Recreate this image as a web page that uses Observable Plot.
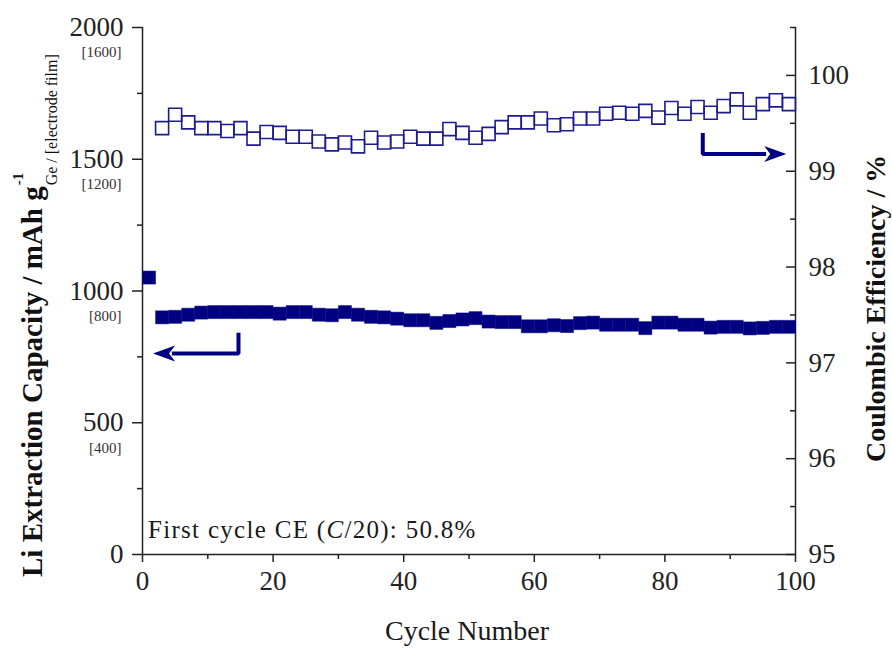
<!DOCTYPE html>
<html><head><meta charset="utf-8">
<script src="https://cdn.jsdelivr.net/npm/d3@7"></script>
<script src="https://cdn.jsdelivr.net/npm/@observablehq/plot@0.6"></script>
<style>
html,body{margin:0;padding:0;background:#fff;}
#chart svg{display:block;}
</style></head><body><div id="chart"></div>
<script>
// ---- data ----
const capCycles = [1,3,5,7,9,11,13,15,17,19,21,23,25,27,29,31,33,35,37,39,41,43,45,47,49,51,53,55,57,59,61,63,65,67,69,71,73,75,77,79,81,83,85,87,89,91,93,95,97,99];
const capValues = [1051,900,902,910,918,920,920,920,920,920,914,920,920,910,908,920,910,902,900,895,889,889,879,886,892,897,884,882,882,866,866,870,867,878,880,872,872,872,859,880,880,872,872,861,864,864,858,860,864,864];
const ceCycles = [3,5,7,9,11,13,15,17,19,21,23,25,27,29,31,33,35,37,39,41,43,45,47,49,51,53,55,57,59,61,63,65,67,69,71,73,75,77,79,81,83,85,87,89,91,93,95,97,99];
const ceValues = [99.45,99.59,99.51,99.45,99.45,99.42,99.45,99.34,99.41,99.40,99.36,99.36,99.31,99.28,99.30,99.26,99.35,99.30,99.31,99.36,99.34,99.34,99.44,99.40,99.35,99.39,99.46,99.51,99.51,99.55,99.48,99.49,99.55,99.55,99.60,99.61,99.60,99.63,99.56,99.66,99.60,99.67,99.61,99.68,99.75,99.61,99.70,99.74,99.70];

const xTicks = [0,20,40,60,80,100];
const xMinorTicks = [10,30,50,70,90];
const capTicks = [0,500,1000,1500,2000];
const capMinorTicks = [250,750,1250,1750];
const filmTickLabels = ["","[400]","[800]","[1200]","[1600]"];
const ceTicks = [95,96,97,98,99,100];
const ceMinorTicks = [95.5,96.5,97.5,98.5,99.5,100.5];
const capDomain = [0,2000];
const ceDomain = [95,100.5];

// arrow annotations (data units)
const capArrowCycles = [14.7,14.7,4.5];
const capArrowValues = [842,763,763];
const capArrowHead = {cycle:3.3, value:763};
const ceArrowCycles = [85.8,85.8,95.5];
const ceArrowValues = [99.40,99.18,99.18];
const ceArrowHead = {cycle:96.9, value:99.18};

const noteParts = ["First cycle CE (", "C", "/20): 50.8%"];
const xTitle = "Cycle Number";
const yTitleMain = "Li Extraction Capacity / mAh g";
const yTitleSup = "-1";
const yTitleSub = "Ge / [electrode film]";
const y2Title = "Coulombic Efficiency / %";

// map CE onto the capacity scale (secondary axis)
const ceToY = v => (v - ceDomain[0]) / (ceDomain[1] - ceDomain[0]) * (capDomain[1] - capDomain[0]) + capDomain[0];
const yToCe = y => (y - capDomain[0]) / (capDomain[1] - capDomain[0]) * (ceDomain[1] - ceDomain[0]) + ceDomain[0];

const capData = capCycles.map((c,i) => ({cycle:c, value:capValues[i]}));
const ceData = ceCycles.map((c,i) => ({cycle:c, value:ceToY(ceValues[i])}));
const capArrow = capArrowCycles.map((c,i) => ({cycle:c, value:capArrowValues[i]}));
const ceArrow = ceArrowCycles.map((c,i) => ({cycle:c, value:ceToY(ceArrowValues[i])}));
const ceHead = {cycle: ceArrowHead.cycle, value: ceToY(ceArrowHead.value)};

const NAVY = "#000080";
const AX = "#222";

const arrowLeft = {draw(ctx){ ctx.moveTo(-11,0); ctx.lineTo(11,-8); ctx.lineTo(5,0); ctx.lineTo(11,8); ctx.closePath(); }};
const arrowRight = {draw(ctx){ ctx.moveTo(11,0); ctx.lineTo(-11,-8); ctx.lineTo(-5,0); ctx.lineTo(-11,8); ctx.closePath(); }};

const chart = Plot.plot({
  width: 892, height: 649,
  marginLeft: 142, marginRight: 97, marginTop: 27, marginBottom: 95,
  style: {fontFamily: "'Liberation Serif', 'Times New Roman', serif", fontSize: "27px", color: AX, background: "#fff"},
  x: {domain: [0,100], label: null},
  y: {domain: capDomain, label: null},
  marks: [
    // axis lines
    Plot.ruleX([0], {stroke: AX, strokeWidth: 1.5}),
    Plot.ruleX([100], {stroke: AX, strokeWidth: 1.5}),
    Plot.ruleY([0], {stroke: AX, strokeWidth: 1.5}),
    // x axis
    Plot.axisX(xTicks, {tickSize: 8, tickPadding: 8, tickFormat: d => String(d), stroke: AX, strokeWidth: 1.5, fill: AX, label: null}),
    Plot.axisX(xMinorTicks, {tickSize: 5, tickFormat: () => "", stroke: AX, strokeWidth: 1.5, label: null}),
    // left axis
    Plot.axisY(capTicks, {anchor: "left", tickSize: 10, tickPadding: 9, tickFormat: d => String(d), stroke: AX, strokeWidth: 1.5, fill: AX, label: null}),
    Plot.axisY(capMinorTicks, {anchor: "left", tickSize: 5, tickFormat: () => "", stroke: AX, strokeWidth: 1.5, label: null}),
    Plot.text(capTicks, {y: d => d, text: (d,i) => filmTickLabels[i], frameAnchor: "left", textAnchor: "end", dx: -21, dy: 25, fontSize: 15, fill: "#333"}),
    // right axis (ticks point inward)
    Plot.axisY(ceTicks.map(ceToY), {anchor: "right", tickSize: -10, tickPadding: 23, tickFormat: d => String(Math.round(yToCe(d))), stroke: AX, strokeWidth: 1.5, fill: AX, label: null}),
    Plot.axisY(ceMinorTicks.map(ceToY), {anchor: "right", tickSize: -6, tickPadding: 0, tickFormat: () => "", stroke: AX, strokeWidth: 1.5, label: null}),
    // data
    Plot.dot(capData, {x: "cycle", y: "value", symbol: "square", r: 7.35, fill: NAVY, stroke: NAVY, strokeWidth: 0.5}),
    Plot.dot(ceData, {x: "cycle", y: "value", symbol: "square", r: 7.35, fill: "none", stroke: "#1c1c92", strokeWidth: 1.6}),
    // arrows
    Plot.line(capArrow, {x: "cycle", y: "value", stroke: NAVY, strokeWidth: 4, strokeLinejoin: "miter", strokeLinecap: "butt"}),
    Plot.dot([capArrowHead], {x: "cycle", y: "value", symbol: arrowLeft, fill: NAVY, stroke: "none"}),
    Plot.line(ceArrow, {x: "cycle", y: "value", stroke: NAVY, strokeWidth: 4, strokeLinejoin: "miter", strokeLinecap: "butt"}),
    Plot.dot([ceHead], {x: "cycle", y: "value", symbol: arrowRight, fill: NAVY, stroke: "none"})
  ]
});
document.getElementById("chart").appendChild(chart);

const svg = d3.select(chart);
const FONT = "'Liberation Serif', 'Times New Roman', serif";

// note
const note = svg.append("text").attr("x", 148).attr("y", 538).attr("text-anchor", "start").attr("font-family", FONT).attr("font-size", 25).attr("fill", "#1a1a1a").attr("letter-spacing", 1.3);
note.append("tspan").text(noteParts[0]);
note.append("tspan").attr("font-style", "italic").text(noteParts[1]);
note.append("tspan").text(noteParts[2]);

// x title
svg.append("text").attr("x", 467).attr("y", 640).attr("text-anchor", "middle").attr("font-family", FONT).attr("font-size", 28).attr("fill", "#1a1a1a").text(xTitle);

// left title
const lt = svg.append("g").attr("transform", "translate(42,577) rotate(-90)").attr("text-anchor", "start");
const ltMain = lt.append("text").attr("font-family", FONT).attr("font-weight", "bold").attr("font-size", 29).attr("fill", "#111").text(yTitleMain);
const mainLen = ltMain.node().getComputedTextLength();
lt.append("text").attr("x", mainLen + 1).attr("y", -19).attr("font-family", FONT).attr("font-weight", "bold").attr("font-size", 15).attr("fill", "#111").text(yTitleSup);
lt.append("text").attr("x", mainLen + 1).attr("y", 15).attr("font-family", FONT).attr("font-size", 16).attr("fill", "#111").text(yTitleSub);

// right title
svg.append("text").attr("transform", "translate(885,462) rotate(-90)").attr("text-anchor", "start").attr("font-family", FONT).attr("font-weight", "bold").attr("font-size", 28).attr("fill", "#111").text(y2Title);
</script>
</body></html>
